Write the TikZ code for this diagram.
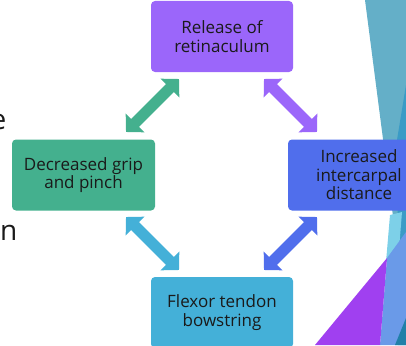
\documentclass[tikz,border=0pt]{standalone}
\usepackage{fontspec}
\setmainfont{Open Sans}
\usetikzlibrary{arrows.meta}

\definecolor{relpurple}{HTML}{9B66FA}
\definecolor{gripgreen}{HTML}{44B08E}
\definecolor{distblue}{HTML}{506EEC}
\definecolor{bowcyan}{HTML}{44B0D8}
\definecolor{darktext}{HTML}{1A1A1A}
\definecolor{bandteal}{HTML}{64AFC8}
\definecolor{banddark}{HTML}{3A9BC6}
\definecolor{bandlight}{HTML}{7DD0E8}
\definecolor{bandperi}{HTML}{6A9AE8}
\definecolor{bandpurple}{HTML}{A040F0}
\definecolor{banddeep}{HTML}{2080A8}

\begin{document}
\begin{tikzpicture}[x=1pt,y=-1pt,
  stepbox/.style={rectangle,rounded corners=4pt,minimum width=142pt,minimum height=71pt,
    inner sep=0pt,align=center,text=darktext,
    font=\fontsize{17}{18.5}\selectfont},
  dblarrow/.style={line width=11pt,
    {Triangle[length=12.9pt,width=25.9pt]}-{Triangle[length=12.9pt,width=25.9pt]}}]

\useasboundingbox (0,0) rectangle (406,345);
\clip (0,0) rectangle (406,345);

%slide background bands
\fill[bandteal] (365,0) -- (406,0) -- (406,345) -- (398,345) -- (398,255) -- cycle;
\fill[banddark] (406,85) -- (397,140) -- (398,250) -- (406,270) -- cycle;
\fill[bandlight] (390,215) -- (402,212) -- (398,262) -- (386,262) -- cycle;
\fill[bandperi] (387,258) -- (406,232) -- (406,345) -- (380,345) -- cycle;
\fill[bandpurple] (315,345) -- (387,258) -- (380,345) -- cycle;
\fill[banddeep] (395,345) -- (406,318) -- (406,345) -- cycle;

%slide body text behind
\node[anchor=base east,inner sep=0pt,font=\fontsize{28}{28}\selectfont,text=darktext] (txte) at (6.5,129) {e};
\node[anchor=base east,inner sep=0pt,font=\fontsize{28}{28}\selectfont,text=darktext] (txton) at (17.5,240) {on};

%the four boxes
\node[stepbox,fill=relpurple] (rel) at (222,36.5) {Release of\\retinaculum};
\node[stepbox,fill=gripgreen,minimum width=143pt] (grip) at (83.5,175) {Decreased grip\\and pinch};
\node[stepbox,fill=distblue] (dist) at (359,175) {Increased\\intercarpal\\distance};
\node[stepbox,fill=bowcyan] (bow) at (222,312.5) {Flexor tendon\\bowstring};

%arrow ends
\coordinate (relL) at (179,79);
\coordinate (gripT) at (126,132);
\coordinate (relR) at (264,79);
\coordinate (distT) at (317,132);
\coordinate (gripB) at (126,217);
\coordinate (bowL) at (179,270);
\coordinate (distB) at (317,217);
\coordinate (bowR) at (264,270);

\draw[dblarrow,gripgreen] (relL) -- (gripT);
\draw[dblarrow,relpurple] (relR) -- (distT);
\draw[dblarrow,bowcyan] (gripB) -- (bowL);
\draw[dblarrow,distblue] (distB) -- (bowR);

\end{tikzpicture}
\end{document}
